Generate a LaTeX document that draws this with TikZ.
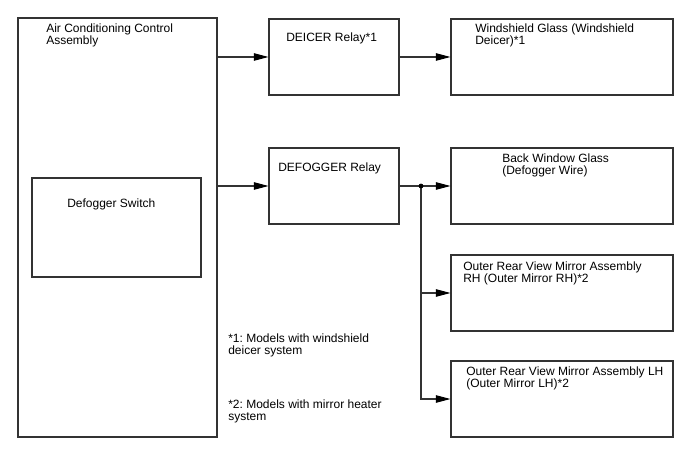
\documentclass[tikz,border=0pt]{standalone}
\usepackage{fontspec}
\setmainfont{Liberation Sans}
\usetikzlibrary{fit,arrows.meta}
\begin{document}
\frenchspacing
\begin{tikzpicture}[x=0.75pt,y=-0.75pt,
  box/.style={draw=black!80,line width=0.8pt,inner sep=0pt},
  lbl/.style={anchor=base west,inner sep=0pt,align=left,font=\fontsize{9}{9}\selectfont},
  conn/.style={draw=black!80,line width=0.8pt,-{Triangle[length=11pt,width=5.6pt,color=black]}}]
\useasboundingbox (0,0) rectangle (688,463);
% boxes
\node[box,fit={(18,18) (217,437)}] (main) {};
\node[box,fit={(32,178) (201,277)}] (sw) {};
\node[box,fit={(269,19) (399,95)}] (deicer) {};
\node[box,fit={(451,19) (673,95)}] (wind) {};
\node[box,fit={(269,148) (399,224)}] (defrelay) {};
\node[box,fit={(451,148) (673,224)}] (back) {};
\node[box,fit={(451,255) (673,331)}] (rh) {};
\node[box,fit={(451,361) (673,437)}] (lh) {};
% texts (base = baseline of last line)
\node[lbl] (t1) at (46,45) {Air Conditioning Control\\Assembly};
\node[lbl] (t2) at (67,208) {Defogger Switch};
\node[lbl] (t3) at (286,42) {DEICER Relay*1};
\node[lbl] (t4) at (475,45) {Windshield Glass (Windshield\\Deicer)*1};
\node[lbl] (t5) at (278,172) {DEFOGGER Relay};
\node[lbl] (t6) at (502,175) {Back Window Glass\\(Defogger Wire)};
\node[lbl] (t7) at (463,282) {Outer Rear View Mirror Assembly\\RH (Outer Mirror RH)*2};
\node[lbl] (t8) at (466,387) {Outer Rear View Mirror Assembly LH\\(Outer Mirror LH)*2};
\node[lbl] (n1) at (228,354) {*1: Models with windshield\\deicer system};
\node[lbl] (n2) at (228,420) {*2: Models with mirror heater\\system};
% connectors
\draw[conn] (main.east |- deicer.west) -- (deicer.west);
\draw[conn] (deicer.east) -- (wind.west);
\draw[conn] (main.east |- defrelay.west) -- (defrelay.west);
\coordinate (j) at (421,186);
\draw[conn] (defrelay.east) -- (back.west);
\draw[conn] (j) |- (rh.west);
\draw[conn] (j) |- (lh.west);
\fill[black] (j) circle (1.8pt);
\end{tikzpicture}
\end{document}
